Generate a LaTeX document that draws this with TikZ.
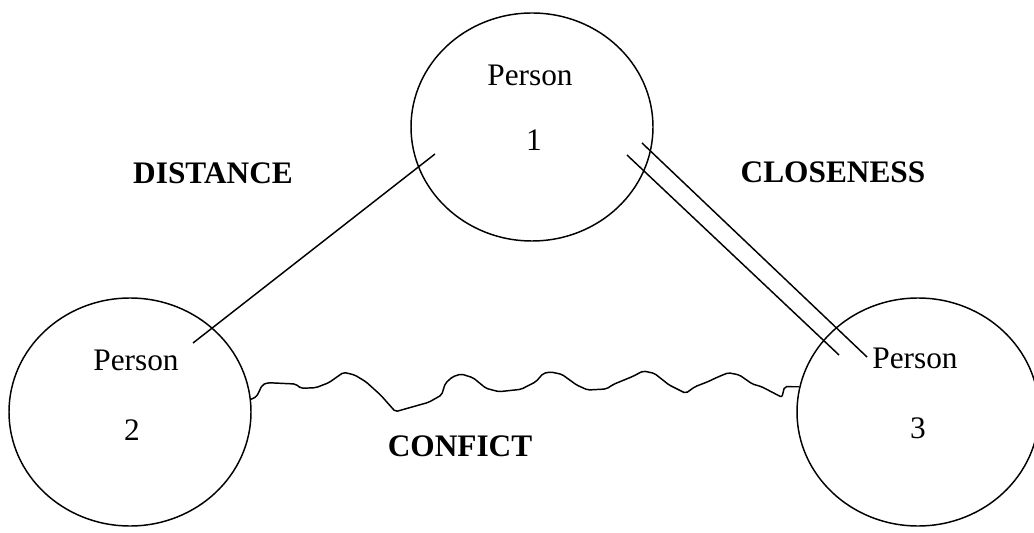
\documentclass[tikz,border=0pt]{standalone}
\usepackage{fontspec}
\setmainfont{Liberation Serif}
\usepackage{tikz}
\usetikzlibrary{shapes.geometric}

\begin{document}
\begin{tikzpicture}[x=0.75pt, y=0.75pt]
    \tikzstyle{person} = [ellipse, draw=black, line width=1.1pt, minimum width=181.5pt, minimum height=171pt, inner sep=0pt]
    \tikzstyle{personname} = [font=\fontsize{23.5}{28}\selectfont, inner sep=0pt]
    \tikzstyle{relation} = [font=\fontsize{23.5}{28}\selectfont\bfseries, inner sep=0pt]
    \tikzstyle{tie} = [draw=black, line width=1.1pt]

    \useasboundingbox (0,0) rectangle (1034,532);

    % Nodes
    \node (person1) [person] at (532,405) {};
    \node (person2) [person] at (130,120) {};
    \node (person3) [person] at (918,120) {};

    \node (name1) [personname] at (530,457) {Person};
    \node (num1) [personname] at (534,392) {1};
    \node (name2) [personname] at (136,172) {Person};
    \node (num2) [personname] at (132,102) {2};
    \node (name3) [personname] at (915,174) {Person};
    \node (num3) [personname] at (918,104) {3};

    \node (distance) [relation] at (213,359) {DISTANCE};
    \node (closeness) [relation] at (833,360) {CLOSENESS};
    \node (conflict) [relation] at (460,86) {CONFICT};

    % Line ends
    \coordinate (d1) at (435,378);
    \coordinate (d2) at (193,189);
    \coordinate (c1a) at (642,389);
    \coordinate (c3a) at (867,175);
    \coordinate (c1b) at (627,377);
    \coordinate (c3b) at (839,177);

    % Lines
    \draw [tie] (d1) -- (d2);
    \draw [tie] (c1a) -- (c3a);
    \draw [tie] (c1b) -- (c3b);
    \draw [tie, rounded corners=1.5pt] (person2.6.5) -- (256.6,135.3) -- (262.2,147) -- (267.7,149.3)
        -- (295.5,148) -- (301,143.7) -- (315.8,144.3) -- (328.8,149.3) -- (343.6,159.7)
        -- (354.7,157) -- (365.8,150.3) -- (380.6,137) -- (395.4,120.3) -- (428.7,129.7)
        -- (441.6,137) -- (445.3,148.7) -- (452.7,155.3) -- (461.2,158) -- (473,154.3)
        -- (486,143.7) -- (498.9,140.3) -- (521.1,142.7) -- (535.9,150.3) -- (543.3,158.7)
        -- (550.7,160) -- (561.8,157.7) -- (576.6,147) -- (587.7,142) -- (606.2,143)
        -- (613.6,147.7) -- (632.1,155.3) -- (643.2,161) -- (654.3,158.7) -- (669.1,147)
        -- (685.7,138.7) -- (695,145.3) -- (707.9,150.3) -- (717.2,154.7) -- (728.3,159.3)
        -- (739.4,157) -- (752.3,148) -- (761.6,145.3) -- (781.9,134.7) -- (784.5,145.3)
        -- (person3.168);
\end{tikzpicture}
\end{document}
